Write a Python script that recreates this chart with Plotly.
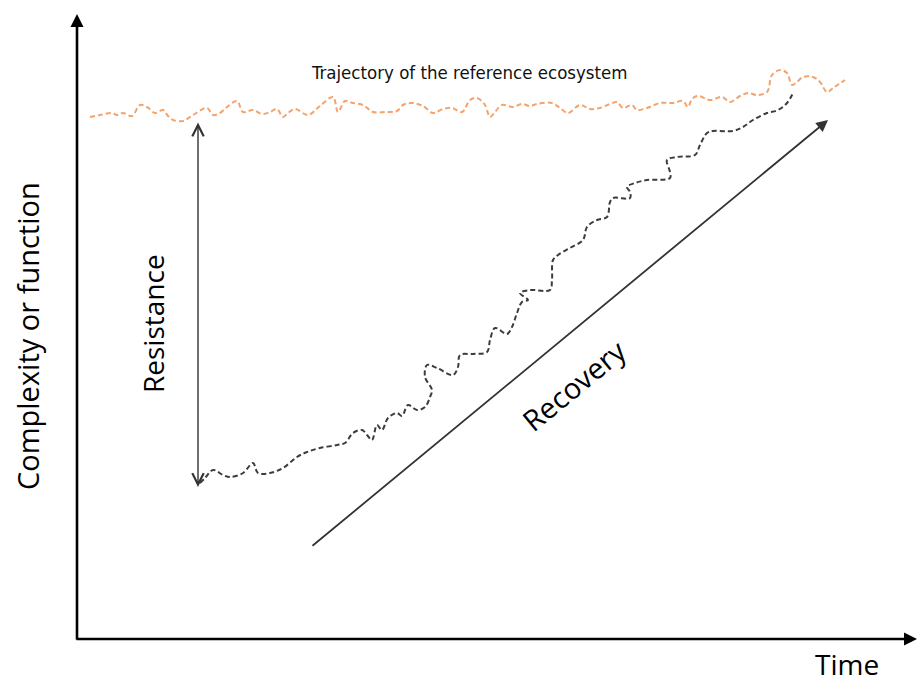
import plotly.graph_objects as go

# pixel-like coordinate frame (x right, y down), 918 x 682
W, H = 918, 682

# reference ecosystem trajectory (orange)
ref_x = [90, 100, 112, 117, 123, 132, 140, 147, 155, 163, 168, 173, 183, 193, 207, 213,
         220, 227, 237, 243, 253, 262, 270, 277, 283, 288, 295, 308, 320, 333, 338, 345,
         353, 363, 373, 385, 397, 403, 412, 423, 433, 443, 452, 462, 470, 477, 485, 490,
         495, 502, 513, 522, 530, 537, 552, 560, 568, 580, 590, 600, 610, 617, 623, 632,
         637, 647, 660, 673, 683, 688, 692, 698, 710, 722, 730, 740, 748, 757, 767, 772,
         780, 787, 792, 797, 803, 813, 820, 827, 833, 845]
ref_y = [117, 115, 113, 115, 113, 116, 105, 107, 113, 110, 116, 120, 121, 115, 108, 115,
         113, 107, 101, 112, 110, 114, 112, 109, 117, 113, 109, 115, 106, 97, 112, 101,
         103, 105, 112, 112, 111, 105, 103, 106, 113, 109, 108, 112, 100, 98, 105, 117,
         112, 105, 107, 104, 106, 104, 103, 108, 113, 105, 109, 108, 104, 102, 108, 105,
         110, 108, 103, 103, 101, 107, 99, 96, 100, 97, 102, 96, 93, 95, 92, 75,
         70, 73, 85, 82, 77, 77, 82, 92, 88, 80]

# disturbed ecosystem trajectory (black)
dist_x = [200, 205, 213, 223, 230, 243, 253, 258, 270, 283, 297, 307, 320, 337, 345, 353,
          362, 367, 372, 377, 382, 388, 397, 402, 408, 417, 425, 430, 432, 425, 427, 437,
          453, 458, 460, 473, 487, 490, 495, 507, 512, 517, 522, 528, 520, 530, 550, 552,
          553, 558, 570, 583, 587, 597, 607, 610, 613, 630, 630, 627, 635, 647, 670, 670,
          667, 677, 695, 700, 707, 713, 733, 743, 753, 767, 778, 787, 793]
dist_y = [483, 478, 470, 475, 477, 473, 463, 473, 473, 468, 457, 452, 448, 445, 443, 433,
          430, 435, 440, 425, 430, 418, 413, 416, 405, 410, 407, 397, 390, 377, 365, 368,
          375, 367, 355, 354, 352, 340, 328, 334, 327, 313, 302, 300, 293, 290, 290, 280,
          260, 255, 248, 240, 227, 220, 217, 202, 198, 198, 192, 187, 183, 180, 178, 172,
          160, 157, 155, 145, 133, 131, 131, 127, 120, 113, 110, 103, 93]

# arrows: (tail_x, tail_y, head_x, head_y)
y_axis_arrow = (77, 641, 77, 14)
x_axis_arrow = (75, 639, 917, 639)
resistance_arrow = (198, 121, 198, 487)
recovery_arrow = (311, 547, 828, 120)

fig = go.Figure()

fig.add_trace(go.Scatter(
    x=ref_x, y=ref_y, mode="lines", line_shape="spline",
    line=dict(color="#F5A36C", width=2, dash="5px,3px"), hoverinfo="skip"
))
fig.add_trace(go.Scatter(
    x=dist_x, y=dist_y, mode="lines", line_shape="spline",
    line=dict(color="#3c3c3c", width=2, dash="5px,3px"), hoverinfo="skip"
))


def _arrow(seg, color, width, head, size, both=False):
    x0, y0, x1, y1 = seg
    fig.add_annotation(
        x=x1, y=y1, ax=x0, ay=y0, xref="x", yref="y", axref="x", ayref="y",
        text="", showarrow=True, arrowhead=head, startarrowhead=head,
        arrowside="end+start" if both else "end",
        arrowsize=size, startarrowsize=size, arrowwidth=width, arrowcolor=color,
        standoff=0, startstandoff=0,
    )


_arrow(y_axis_arrow, "#000000", 2.6, 2, 1.0)
_arrow(x_axis_arrow, "#000000", 2.6, 2, 1.0)
_arrow(resistance_arrow, "#333333", 1.4, 5, 1.6, both=True)
_arrow(recovery_arrow, "#333333", 1.8, 2, 1.3)

TXT = "Open Sans"
fig.add_annotation(x=469, y=72, text="Trajectory of the reference ecosystem",
                   showarrow=False,
                   font=dict(family="DejaVu Sans Condensed, Liberation Sans Narrow, Roboto",
                             size=18.5, color="#111"))
fig.add_annotation(x=27, y=336, text="Complexity or function", textangle=-90,
                   showarrow=False, font=dict(family=TXT, size=29, color="#000"))
fig.add_annotation(x=153, y=324, text="Resistance", textangle=-90,
                   showarrow=False, font=dict(family=TXT, size=28, color="#000"))
fig.add_annotation(x=573, y=385, text="Recovery", textangle=-39.5,
                   showarrow=False, font=dict(family=TXT, size=29, color="#000"))
fig.add_annotation(x=847, y=664, text="Time",
                   showarrow=False, font=dict(family=TXT, size=28, color="#000"))

fig.update_xaxes(range=[0, W], visible=False, fixedrange=True)
fig.update_yaxes(range=[H, 0], visible=False, fixedrange=True)
fig.update_layout(
    width=W, height=H, showlegend=False,
    margin=dict(l=0, r=0, t=0, b=0),
    paper_bgcolor="white", plot_bgcolor="white",
)

# drop the page's default body margin so the figure sits at (0, 0)
fig.write_html("out.html", config={"displayModeBar": False},
               post_script="document.body.style.margin='0';")
